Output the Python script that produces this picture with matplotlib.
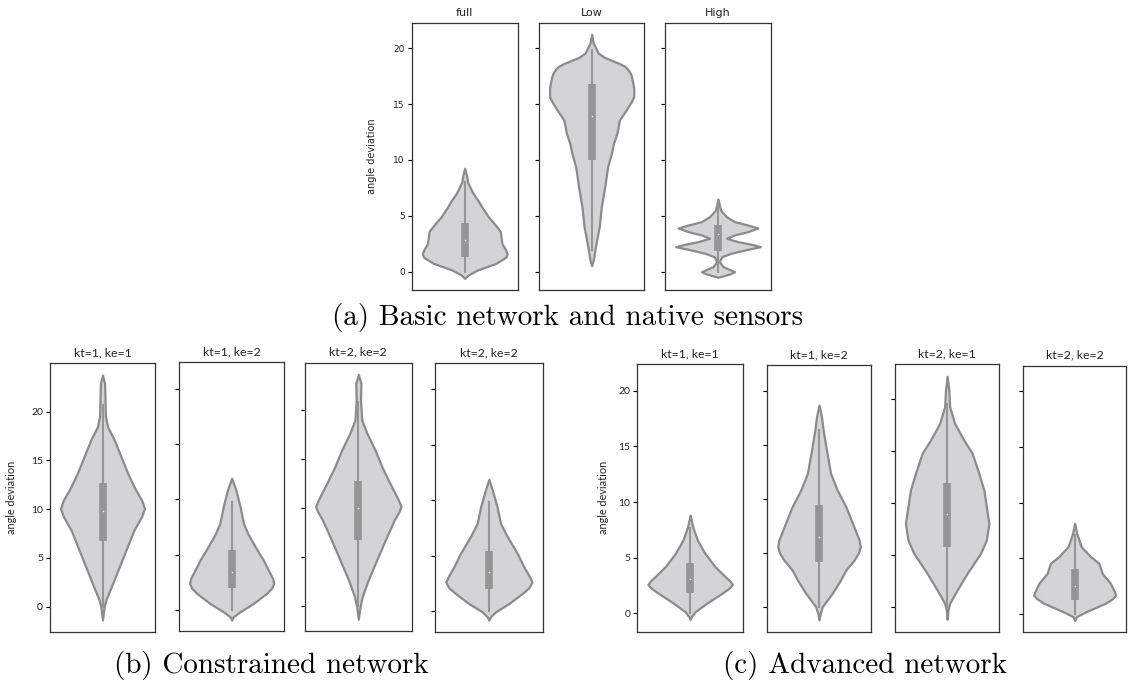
import matplotlib
matplotlib.use("Agg")
import matplotlib.pyplot as plt

W, H = 1128, 686

# ---- panel (a): basic network and native sensors ----
a_titles = ["full", "Low", "High"]

full_y = [-0.6, -0.3, 0.15, 0.75, 1.3, 1.6, 2.0, 2.5, 3.0, 3.6, 4.2, 4.9, 5.7, 6.4, 7.0, 7.6, 8.0, 8.5, 9.26]
full_w = [0, 0.08, 0.3, 0.74, 0.97, 1.0, 0.96, 0.88, 0.86, 0.84, 0.72, 0.56, 0.42, 0.31, 0.2, 0.12, 0.07, 0.05, 0]
full_box = [0.0, 1.34, 2.84, 4.39, 8.06]   # whisker low, q1, median, q3, whisker high

low_y = [0.54, 1.05, 2.24, 4.03, 5.82, 7.6, 9.4, 10.6, 11.5, 12.39, 13.58, 14.48, 15.2, 15.67, 16.4, 16.87, 17.4, 17.76, 18.1, 18.35, 18.6, 18.8, 19.2, 19.55, 20.45, 21.25]
low_w = [0, 0.04, 0.09, 0.18, 0.23, 0.31, 0.38, 0.47, 0.52, 0.6, 0.66, 0.82, 0.94, 1.0, 1.0, 0.98, 0.95, 0.92, 0.86, 0.8, 0.68, 0.55, 0.3, 0.16, 0.04, 0]
low_box = [1.94, 10.0, 13.96, 16.78, 19.85]

high_y = [-0.5, -0.2, 0.0, 0.45, 0.9, 1.34, 1.65, 1.94, 2.24, 2.45, 2.69, 2.99, 3.29, 3.58, 3.91, 4.18, 4.48, 4.92, 5.52, 6.51]
high_w = [0, 0.28, 0.39, 0.12, 0.03, 0.09, 0.31, 0.63, 1.0, 0.79, 0.47, 0.2, 0.39, 0.7, 0.94, 0.7, 0.39, 0.2, 0.06, 0]
high_box = [0.0, 1.88, 3.35, 4.18, 6.42]

# ---- panel (b): constrained network ----
b_titles = ["kt=1, ke=1", "kt=1, ke=2", "kt=2, ke=2", "kt=2, ke=2"]

b1_y = [-1.36, -0.68, 0.0, 0.69, 2.05, 4.1, 6.15, 7.87, 9.23, 10.09, 10.94, 12.3, 13.68, 15.38, 17.1, 18.46, 19.5, 21.2, 22.9, 23.76]
b1_w = [0, 0.02, 0.04, 0.08, 0.21, 0.4, 0.59, 0.75, 0.93, 1.0, 0.93, 0.75, 0.6, 0.44, 0.28, 0.12, 0.07, 0.06, 0.05, 0]
b1_box = [0.0, 6.7, 9.81, 12.65, 20.69]

b2_y = [-0.88, -0.58, -0.13, 0.63, 1.53, 2.0, 2.44, 2.9, 3.34, 4.54, 5.74, 6.95, 7.85, 9.35, 10.86, 11.91]
b2_w = [0, 0.04, 0.2, 0.52, 0.83, 0.95, 1.0, 0.97, 0.91, 0.75, 0.56, 0.38, 0.28, 0.2, 0.1, 0]
b2_box = [0.0, 1.99, 3.48, 5.44, 9.8]

b3_y = [-1.39, -0.1, 0.92, 2.63, 4.68, 6.72, 8.77, 9.6, 10.13, 10.6, 11.16, 12.53, 14.23, 15.94, 17.65, 19.0, 21.05, 22.76, 23.68]
b3_w = [0, 0.04, 0.09, 0.23, 0.43, 0.63, 0.84, 0.95, 1.0, 0.96, 0.9, 0.74, 0.55, 0.39, 0.2, 0.08, 0.05, 0.06, 0]
b3_box = [0.0, 6.72, 10.0, 12.76, 20.88]

b4_y = [-0.81, -0.51, -0.06, 0.69, 1.6, 2.1, 2.62, 3.2, 4.0, 5.2, 6.7, 7.91, 9.41, 10.92, 11.88]
b4_w = [0, 0.04, 0.16, 0.47, 0.78, 0.93, 1.0, 0.93, 0.81, 0.66, 0.43, 0.27, 0.19, 0.08, 0]
b4_box = [0.0, 1.96, 3.49, 5.44, 9.8]

# ---- panel (c): advanced network ----
c_titles = ["kt=1, ke=1", "kt=1, ke=2", "kt=2, ke=1", "kt=2, ke=2"]

c1_y = [-0.54, -0.3, 0.15, 0.9, 1.8, 2.25, 2.6, 2.95, 3.29, 4.19, 5.39, 6.59, 7.78, 8.83]
c1_w = [0, 0.03, 0.12, 0.39, 0.75, 0.92, 1.0, 0.93, 0.83, 0.59, 0.35, 0.17, 0.06, 0]
c1_box = [0.0, 1.86, 3.05, 4.49, 7.63]

c2_y = [-1.17, -0.55, 0.06, 1.29, 2.52, 3.45, 4.37, 5.0, 5.6, 6.22, 7.75, 9.29, 10.83, 12.37, 14.52, 16.37, 17.6, 18.68]
c2_w = [0, 0.03, 0.08, 0.32, 0.52, 0.65, 0.85, 0.95, 1.0, 0.97, 0.81, 0.65, 0.44, 0.28, 0.18, 0.1, 0.06, 0]
c2_box = [0.0, 4.22, 6.46, 9.45, 16.37]

c3_y = [-1.22, -0.32, 0.32, 1.61, 3.21, 5.14, 6.42, 8.03, 9.63, 11.24, 12.84, 14.77, 16.05, 17.66, 19.26, 20.87, 22.2]
c3_w = [0, 0.02, 0.06, 0.24, 0.48, 0.8, 0.94, 1.0, 0.94, 0.88, 0.76, 0.6, 0.4, 0.18, 0.06, 0.04, 0]
c3_box = [0.0, 5.78, 8.89, 11.94, 19.5]

c4_y = [-0.57, -0.21, 0.24, 0.99, 1.4, 1.73, 2.1, 2.78, 3.67, 4.57, 5.16, 6.06, 7.25, 8.15]
c4_w = [0, 0.04, 0.28, 0.75, 0.92, 1.0, 0.96, 0.87, 0.67, 0.59, 0.39, 0.16, 0.05, 0]
c4_box = [0.0, 1.28, 2.54, 4.03, 7.1]

# axes boxes in pixels: left, right, top, bottom, ymin, ymax
a_boxes = [(411.7, 517.7, 22.7, 290, -1.64, 22.29),
           (539, 644.3, 22.7, 290, -1.64, 22.29),
           (665, 771, 22.7, 290, -1.64, 22.29)]
b_boxes = [(50, 155, 363.3, 632.3, -2.63, 24.96),
           (179, 284.3, 362.3, 631, -1.87, 22.38),
           (305, 411.7, 362.7, 631, -2.59, 24.87),
           (435, 542.7, 363.3, 632.3, -1.92, 22.35)]
c_boxes = [(637.3, 743, 364, 631.7, -1.65, 22.4),
           (767.3, 870.7, 365, 632, -2.28, 22.37),
           (895, 999.3, 364.3, 632.3, -2.47, 23.35),
           (1023.3, 1126, 365.7, 632.3, -1.61, 22.26)]

FILL = "#d3d4d6"
EDGE = "#8b8b8b"
BOX = "#959595"


def violin(fig, box, y, w, stats, title, font, first, fs):
    l, r, t, b, y0, y1 = box
    ax = fig.add_axes([l / W, 1 - b / H, (r - l) / W, (b - t) / H])
    half = [0.4 * v for v in w]
    ax.fill_betweenx(y, [-h for h in half], half, facecolor=FILL,
                     edgecolor=EDGE, linewidth=1.6, joinstyle="round")
    ax.plot([0, 0], [stats[0], stats[4]], color=BOX, lw=1.5)
    ax.plot([0, 0], [stats[1], stats[3]], color=BOX, lw=5.5,
            solid_capstyle="butt")
    ax.scatter([0], [stats[2]], s=1.2, color="white", zorder=5, linewidths=0)
    ax.set_xlim(-0.5, 0.5)
    ax.set_ylim(y0, y1)
    ax.set_xticks([])
    ax.set_yticks([0, 5, 10, 15, 20])
    ax.tick_params(axis="y", length=3, width=0.8, pad=2, labelsize=fs[0],
                   labelleft=first)
    for lab in ax.get_yticklabels():
        lab.set_fontfamily(font)
        lab.set_color("#222222")
    for s in ax.spines.values():
        s.set_color("#333333")
        s.set_linewidth(0.9)
    ax.set_title(title, fontsize=fs[1], family=font, pad=5, color="#222222")
    if first:
        ax.set_ylabel("angle deviation", fontsize=fs[2], family=font, color="#222222")
    return ax


fig = plt.figure(figsize=(W / 100, H / 100), dpi=100)

a_data = [(full_y, full_w, full_box), (low_y, low_w, low_box), (high_y, high_w, high_box)]
for i, (yy, ww, st) in enumerate(a_data):
    ax = violin(fig, a_boxes[i], yy, ww, st, a_titles[i], "DejaVu Sans", i == 0, (6.5, 8, 7))
    if i == 0:
        ax.yaxis.set_label_coords(-0.33, 0.5)

b_data = [(b1_y, b1_w, b1_box), (b2_y, b2_w, b2_box), (b3_y, b3_w, b3_box), (b4_y, b4_w, b4_box)]
for i, (yy, ww, st) in enumerate(b_data):
    ax = violin(fig, b_boxes[i], yy, ww, st, b_titles[i], "Lato", i == 0, (7.5, 8.8, 7.8))
    if i == 0:
        ax.yaxis.set_label_coords(-0.31, 0.5)

c_data = [(c1_y, c1_w, c1_box), (c2_y, c2_w, c2_box), (c3_y, c3_w, c3_box), (c4_y, c4_w, c4_box)]
for i, (yy, ww, st) in enumerate(c_data):
    ax = violin(fig, c_boxes[i], yy, ww, st, c_titles[i], "Lato", i == 0, (7.5, 8.8, 7.8))
    if i == 0:
        ax.yaxis.set_label_coords(-0.27, 0.5)

fig.text(568 / W, 1 - 317 / H, "(a) Basic network and native sensors",
         family="cmr10", fontsize=21, ha="center", va="center")
fig.text(271 / W, 1 - 665 / H, "(b) Constrained network",
         family="cmr10", fontsize=21, ha="center", va="center")
fig.text(865 / W, 1 - 665 / H, "(c) Advanced network",
         family="cmr10", fontsize=21, ha="center", va="center")

fig.savefig("out.png", dpi=100)
